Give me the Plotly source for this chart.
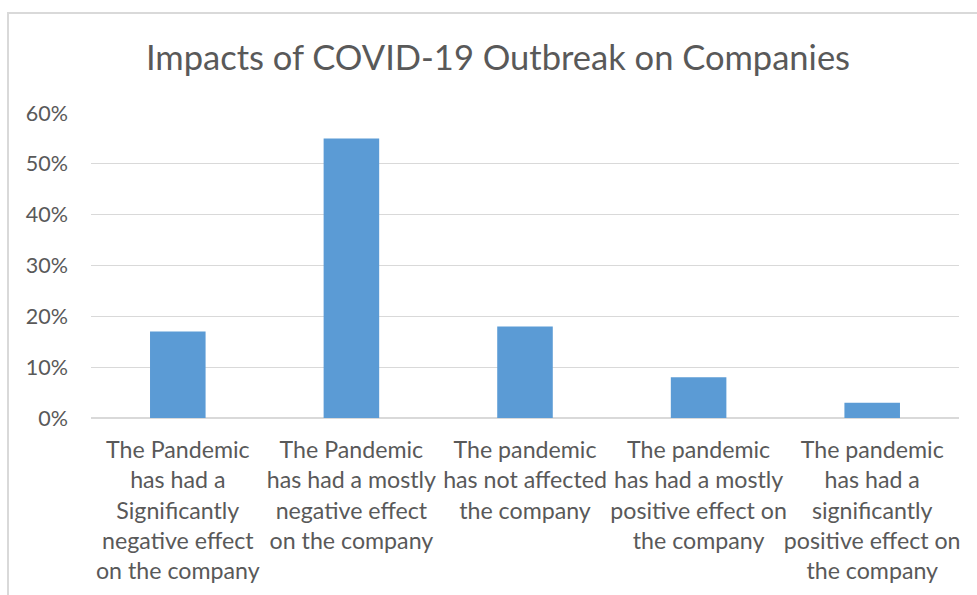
import plotly.graph_objects as go

categories = [
    "The Pandemic<br>has had a<br>Significantly<br>negative effect<br>on the company",
    "The Pandemic<br>has had a mostly<br>negative effect<br>on the company",
    "The pandemic<br>has not affected<br>the company",
    "The pandemic<br>has had a mostly<br>positive effect on<br>the company",
    "The pandemic<br>has had a<br>significantly<br>positive effect on<br>the company",
]
values = [0.17, 0.55, 0.18, 0.08, 0.03]
tick_vals = [0, 0.1, 0.2, 0.3, 0.4, 0.5, 0.6]
tick_text = ["0%", "10%", "20%", "30%", "40%", "50%", "60%"]
title_text = "Impacts of COVID-19 Outbreak on Companies"

W, H = 977, 595
L, R, T, B = 91, 18, 113, 177
pw, ph = W - L - R, H - T - B

fig = go.Figure(go.Bar(
    x=categories, y=values,
    marker=dict(color="#5B9BD5", line=dict(width=0)),
    width=0.32,
    hoverinfo="skip",
))

def px2x(px):
    return (px - L) / pw

def py2y(py):
    return (H - B - py) / ph

fig.update_layout(
    width=W, height=H,
    margin=dict(l=L, r=R, t=T, b=B),
    paper_bgcolor="white", plot_bgcolor="white",
    font=dict(family="Lato, Carlito, sans-serif", color="#595959", size=21),
    showlegend=False,
    title=dict(text=title_text, x=px2x(498), xref="paper", xanchor="center",
               y=1 - 58 / H, yanchor="middle",
               font=dict(size=34.5, color="#595959", family="Lato, Carlito, sans-serif")),
    xaxis=dict(showgrid=False, zeroline=False, showline=False, ticks="",
               tickfont=dict(size=23.2, color="#595959"), tickangle=0,
               ticklabelstandoff=16, automargin=False),
    yaxis=dict(range=[0, 0.6], tickvals=tick_vals, ticktext=tick_text,
               showgrid=True, gridcolor="#D9D9D9", gridwidth=1.3,
               zeroline=True, zerolinecolor="#D9D9D9", zerolinewidth=1.5,
               showline=False, ticks="", ticklabelstandoff=22,
               tickfont=dict(size=21.5, color="#595959"), automargin=False),
    bargap=0.68,
    shapes=[dict(type="rect", xref="paper", yref="paper",
                 x0=px2x(8), x1=px2x(1000), y0=py2y(620), y1=py2y(13),
                 line=dict(color="#D9D9D9", width=2), fillcolor="rgba(0,0,0,0)",
                 layer="below")],
)

fig.write_html("out.html")
